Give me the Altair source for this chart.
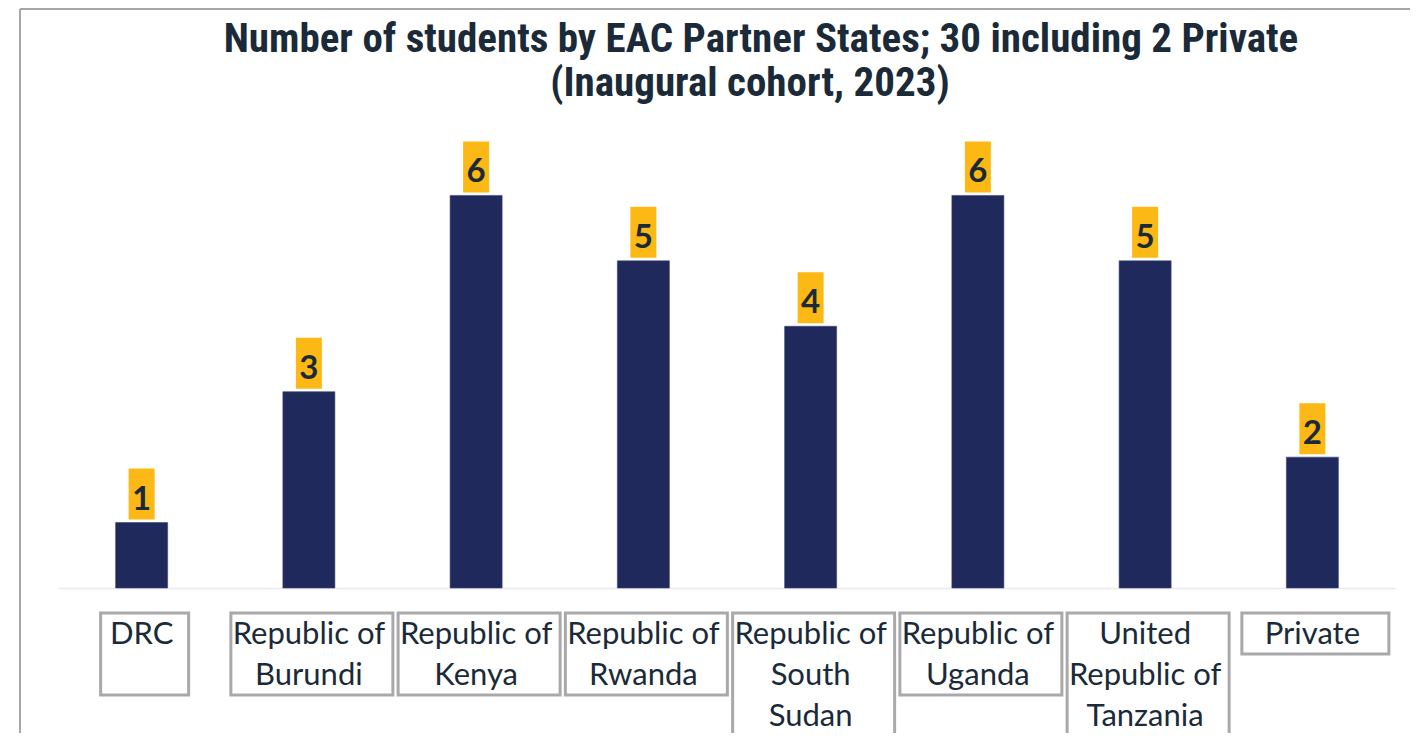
import altair as alt
import pandas as pd

# ---- data ----
categories = ["DRC", "Republic of Burundi", "Republic of Kenya", "Republic of Rwanda",
              "Republic of South Sudan", "Republic of Uganda",
              "United Republic of Tanzania", "Private"]
label_lines = [["DRC"], ["Republic of", "Burundi"], ["Republic of", "Kenya"],
               ["Republic of", "Rwanda"], ["Republic of", "South", "Sudan"],
               ["Republic of", "Uganda"], ["United", "Republic of", "Tanzania"],
               ["Private"]]
students = [1, 3, 6, 5, 4, 6, 5, 2]
title_lines = ["Number of students by EAC Partner States; 30 including 2 Private",
               "(Inaugural cohort, 2023)"]

# ---- styles ----
BAR = "#1F295B"
YELLOW = "#FCB814"
DARK = "#1B2A38"
BOX_STROKE = "#A9A9AB"
FRAME = "#A6A6A6"
TITLE_FONT = "Roboto Condensed, Liberation Sans Narrow, DejaVu Sans Condensed, Lato"
box_rows_override = {"DRC": 2}
box_width_override = {"DRC": 88, "Private": 147}
DEFAULT_BOX_W = 162
title_x = [703, 692]

df = pd.DataFrame({
    "category": categories,
    "students": students,
    "label": ["\n".join(l) for l in label_lines],
    "rows": [box_rows_override.get(c, len(l)) for c, l in zip(categories, label_lines)],
    "boxw": [box_width_override.get(c, DEFAULT_BOX_W) for c in categories],
    "zero": [0] * len(categories),
})

W, H = 1338, 458

x_enc = alt.X("category:N", sort=categories,
              scale=alt.Scale(paddingInner=0.689, paddingOuter=0.3445),
              axis=alt.Axis(labels=False, ticks=False, title=None,
                            domainColor="#EBEBEB", domainWidth=1.5))
y_scale = alt.Scale(domain=[0, 7])
base = alt.Chart(df)

bars = base.mark_bar(color=BAR, stroke="#3A4476", strokeWidth=0.6).encode(
    x=x_enc,
    y=alt.Y("students:Q", scale=y_scale, axis=None),
)

label_bg = base.mark_bar(color=YELLOW, width=26, yOffset=-54, y2Offset=-3).encode(
    x=x_enc,
    y=alt.Y("students:Q", scale=y_scale, axis=None),
    y2=alt.Y2("students:Q"),
)

label_txt = base.mark_text(font="Lato", fontSize=33, fontWeight="bold", color=DARK,
                           baseline="alphabetic", dy=-13).encode(
    x=x_enc,
    y=alt.Y("students:Q", scale=y_scale, axis=None),
    text="students:Q",
)

box_layers = []
for w in sorted(set(df["boxw"])):
    box_layers.append(
        base.transform_filter(alt.datum.boxw == w).mark_bar(
            width=w, fill="white", stroke=BOX_STROKE, strokeWidth=3, xOffset=3
        ).encode(
            x=x_enc,
            y=alt.Y("zero:Q", scale=alt.Scale(domain=[0, 3], range=[483, 606]), axis=None),
            y2=alt.Y2("rows:Q"),
        )
    )

cat_txt = base.mark_text(font="Lato", fontSize=31, color=DARK, baseline="alphabetic",
                         lineBreak="\n", lineHeight=41).encode(
    x=x_enc,
    y=alt.value(514),
    text="label:N",
)

# title lines as text marks
title_layers = []
for i, line in enumerate(title_lines):
    title_layers.append(
        alt.Chart(pd.DataFrame({"t": [line]})).mark_text(
            font=TITLE_FONT, fontSize=41, fontWeight="bold", color=DARK,
            baseline="alphabetic", align="center"
        ).encode(x=alt.value(title_x[i]), y=alt.value(-78 + 44 * i), text="t:N")
    )

frame_top = base.mark_rule(color=FRAME, strokeWidth=2).encode(
    x=alt.value(-38), x2=alt.value(W + 30), y=alt.value(-121))
frame_left = base.mark_rule(color=FRAME, strokeWidth=2).encode(
    x=alt.value(-38), y=alt.value(-121), y2=alt.value(H + 150))

chart = alt.layer(
    frame_top, frame_left, bars, label_bg, label_txt, *box_layers, cat_txt, *title_layers
).resolve_scale(y="independent").properties(
    width=W, height=H,
    autosize=alt.AutoSizeParams(type="none"),
    padding={"left": 50, "top": 122, "right": 14, "bottom": 145},
).configure_view(stroke=None)

chart.save("out.html", embed_options={"renderer": "svg", "actions": False})
